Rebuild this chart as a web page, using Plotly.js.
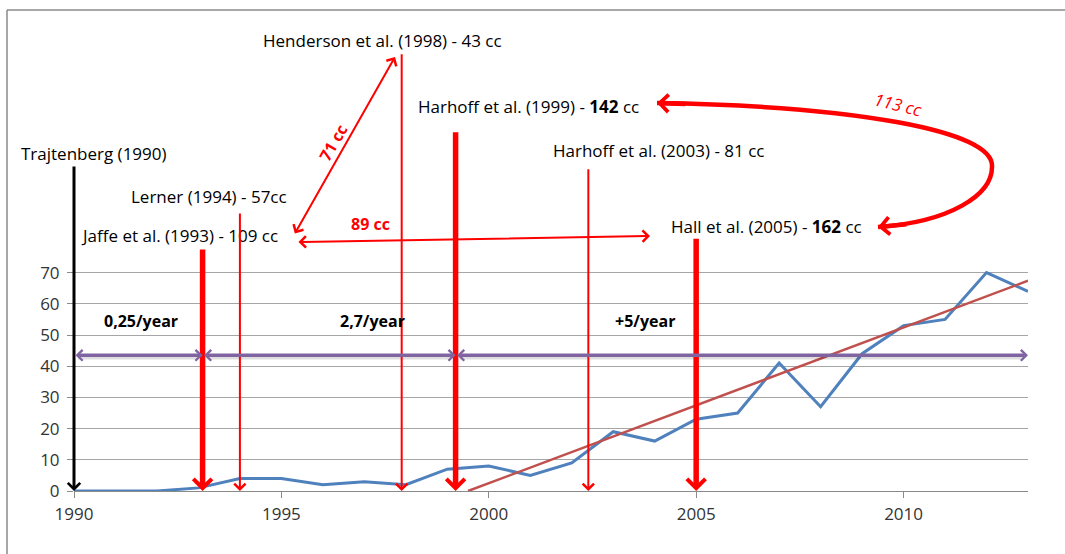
<!DOCTYPE html>
<html><head><meta charset="utf-8">
<script src="https://cdn.plot.ly/plotly-3.0.1.min.js"></script>
<style>html,body{margin:0;padding:0;background:#fff;}#chart{width:1065px;height:554px;}</style>
</head><body><div id="chart"></div>
<script>
// ---- data ----
const years  = [1990,1991,1992,1993,1994,1995,1996,1997,1998,1999,2000,2001,2002,2003,2004,2005,2006,2007,2008,2009,2010,2011,2012,2013];
const counts = [0,0,0,1,4,4,2,3,2,7,8,5,9,19,16,23,25,41,27,44,53,55,70,64];
const trendYears  = [1999.5, 2013];
const trendValues = [0, 67.4];
const studyLabels = ['Trajtenberg (1990)', 'Jaffe et al. (1993) - 109 cc', 'Lerner (1994) - 57cc',
  'Henderson et al. (1998) - 43 cc', 'Harhoff et al. (1999) - <b>142</b> cc',
  'Harhoff et al. (2003) - 81 cc', 'Hall et al. (2005) - <b>162</b> cc'];
const studyYears = [1990, 1993.1, 1994, 1997.9, 1999.2, 2002.4, 2005];
const studyArrowTop = [104.5, 77.9, 89.4, 140.5, 115.5, 103.6, 81.3];
const rateLabels = ['0,25/year', '2,7/year', '+5/year'];
const rateStart = [1990, 1993.1, 1999.2];
const rateEnd   = [1993.1, 1999.2, 2013];
const rateLevel = 43.5;
const linkLabels = ['71 cc', '89 cc', '113 cc'];
const yTicks = [0,10,20,30,40,50,60,70];

// ---- layout geometry ----
const W = 1065, H = 554, ML = 74, MR = 37, MT = 0, MB = 63;
const pxPerYear = (W - ML - MR) / 23;
const pxPerUnit = 3.12;
const yTop = (H - MT - MB) / pxPerUnit;
const PX = p => 1990 + (p - ML) / pxPerYear;      // pixel -> year
const PY = p => (H - MB - p) / pxPerUnit;         // pixel -> value
const RED = '#FF0000', PURPLE = '#8064A2';
const FONT = '"Open Sans", Lato, sans-serif';
const FS = 17;

const traces = [
  {x: years, y: counts, type: 'scatter', mode: 'lines', line: {color: '#4F81BD', width: 3}, hoverinfo: 'skip'},
  {x: trendYears, y: trendValues, type: 'scatter', mode: 'lines', line: {color: '#C0504D', width: 2.5}, hoverinfo: 'skip'}
];

const ann = [];
const aStyle = [
  {c: '#000000', w: 3, s: 0.8},
  {c: RED, w: 5.5, s: 0.65},
  {c: RED, w: 2, s: 1.1},
  {c: RED, w: 2, s: 1.1},
  {c: RED, w: 5.5, s: 0.65},
  {c: RED, w: 2, s: 1.1},
  {c: RED, w: 5.5, s: 0.65}
];
const labelPos = [[94,153],[179,235],[209,196],[382,40],[528,106],[658,150],[766,226]];
studyYears.forEach((yr, i) => {
  ann.push({x: yr, y: 0, ax: yr, ay: studyArrowTop[i], xref: 'x', yref: 'y', axref: 'x', ayref: 'y',
    text: '', showarrow: true, arrowhead: 4, arrowsize: aStyle[i].s, arrowwidth: aStyle[i].w, arrowcolor: aStyle[i].c});
  ann.push({x: PX(labelPos[i][0]), y: PY(labelPos[i][1]), xref: 'x', yref: 'y', text: studyLabels[i],
    showarrow: false, font: {family: FONT, size: FS, color: '#000'}, xanchor: 'center', yanchor: 'middle'});
});
// rate arrows (with a soft shadow underneath)
const ratePos = [141, 372, 645];
const shapes = [];
rateLabels.forEach((t, i) => {
  shapes.push({type: 'line', xref: 'x', yref: 'y', x0: rateStart[i] + 0.1, x1: rateEnd[i] - 0.1,
    y0: rateLevel - 0.7, y1: rateLevel - 0.7, line: {color: 'rgba(0,0,0,0.13)', width: 4}, layer: 'above'});
  ann.push({x: rateEnd[i], y: rateLevel, ax: rateStart[i], ay: rateLevel, xref: 'x', yref: 'y', axref: 'x', ayref: 'y',
    text: '', showarrow: true, arrowhead: 4, startarrowhead: 4, arrowside: 'end+start',
    arrowsize: 0.6, startarrowsize: 0.6, arrowwidth: 3.5, arrowcolor: PURPLE});
  ann.push({x: PX(ratePos[i]), y: PY(321), xref: 'x', yref: 'y', text: '<b>' + t + '</b>', showarrow: false,
    font: {family: FONT, size: 16, color: '#000'}});
});
// 71 cc link
ann.push({x: PX(395), y: PY(57), ax: PX(294), ay: PY(235), xref: 'x', yref: 'y', axref: 'x', ayref: 'y',
  text: '', showarrow: true, arrowhead: 4, startarrowhead: 4, arrowside: 'end+start',
  arrowsize: 1.1, startarrowsize: 1.1, arrowwidth: 2, arrowcolor: RED});
ann.push({x: PX(333), y: PY(143), xref: 'x', yref: 'y', text: '<b>' + linkLabels[0] + '</b>', textangle: -60,
  showarrow: false, font: {family: FONT, size: 16, color: RED}});
// 89 cc link
ann.push({x: PX(650), y: PY(236), ax: PX(297), ay: PY(242), xref: 'x', yref: 'y', axref: 'x', ayref: 'y',
  text: '', showarrow: true, arrowhead: 4, startarrowhead: 4, arrowside: 'end+start',
  arrowsize: 1.1, startarrowsize: 1.1, arrowwidth: 2, arrowcolor: RED});
ann.push({x: PX(370), y: PY(224), xref: 'x', yref: 'y', text: '<b>' + linkLabels[1] + '</b>',
  showarrow: false, font: {family: FONT, size: 16, color: RED}});
// 113 cc curved link: heads
ann.push({x: PX(657), y: PY(103), ax: 30, ay: 1, xref: 'x', yref: 'y', text: '', showarrow: true,
  arrowhead: 4, arrowsize: 0.75, arrowwidth: 4.5, arrowcolor: RED});
ann.push({x: PX(878), y: PY(227), ax: 30, ay: -3, xref: 'x', yref: 'y', text: '', showarrow: true,
  arrowhead: 4, arrowsize: 0.75, arrowwidth: 4.5, arrowcolor: RED});
ann.push({x: PX(898), y: PY(104), xref: 'x', yref: 'y', text: '<i>' + linkLabels[2] + '</i>', textangle: 14,
  showarrow: false, font: {family: FONT, size: FS, color: RED}});

const pt = (a, b) => PX(a) + ',' + PY(b);
const curve = 'M' + pt(657,103) + ' C' + pt(850,106) + ' ' + pt(995,130) + ' ' + pt(992,167) +
              ' C' + pt(992,195) + ' ' + pt(950,222) + ' ' + pt(878,227);

shapes.push(
  {type: 'path', xref: 'x', yref: 'y', path: curve, line: {color: RED, width: 4.5}},
  {type: 'line', xref: 'paper', yref: 'paper', x0: (7 - ML) / (W - ML - MR), x1: 1.2, y0: PY(10) / yTop, y1: PY(10) / yTop,
    line: {color: '#8a8a8a', width: 1.5}},
  {type: 'line', xref: 'paper', yref: 'paper', x0: (7 - ML) / (W - ML - MR), x1: (7 - ML) / (W - ML - MR), y0: PY(10) / yTop, y1: -0.2,
    line: {color: '#8a8a8a', width: 1.5}}
);

const layout = {
  width: W, height: H, autosize: false,
  margin: {l: ML, r: MR, t: MT, b: MB, pad: 0},
  paper_bgcolor: '#fff', plot_bgcolor: '#fff',
  showlegend: false,
  xaxis: {range: [1990, 2013], tickmode: 'linear', tick0: 1990, dtick: 5, showgrid: false, zeroline: false,
    showline: true, linecolor: '#8a8a8a', linewidth: 1, ticks: 'outside', ticklen: 6, tickcolor: '#8a8a8a',
    ticklabelstandoff: 2,
    tickfont: {family: FONT, size: 17, color: '#333'}, fixedrange: true},
  yaxis: {range: [0, yTop], tickmode: 'array', tickvals: yTicks, showgrid: true, gridcolor: '#a6a6a6', gridwidth: 1,
    zeroline: false, showline: false, ticks: 'outside', ticklen: 6, tickcolor: '#8a8a8a', ticklabelstandoff: 4,
    tickfont: {family: FONT, size: 17, color: '#333'}, fixedrange: true},
  annotations: ann,
  shapes: shapes
};
Plotly.newPlot('chart', traces, layout, {staticPlot: true, displayModeBar: false});
</script></body></html>
